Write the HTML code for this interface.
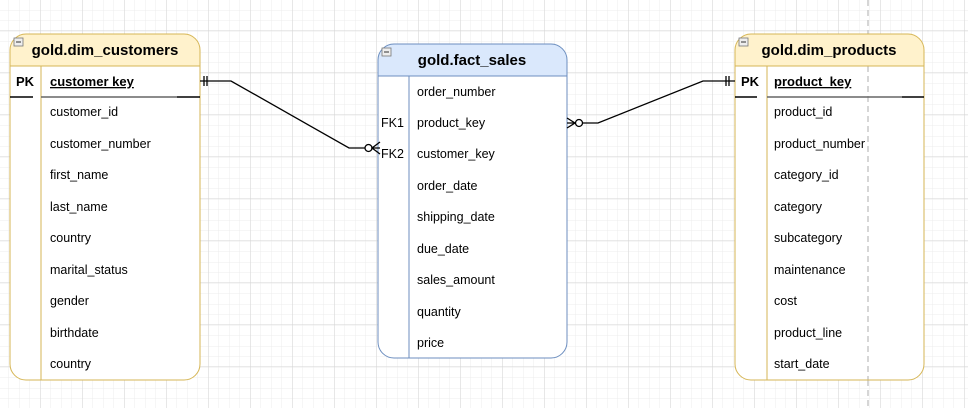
<!DOCTYPE html>
<html><head><meta charset="utf-8"><style>
html,body{margin:0;padding:0;width:968px;height:408px;overflow:hidden;background:#fff;font-family:"Liberation Sans",Arial,sans-serif}
</style></head><body>
<svg width="968" height="408" xmlns="http://www.w3.org/2000/svg" font-family="Liberation Sans, Arial, sans-serif">
<defs>
<pattern id="minor" x="-1.5" y="0" width="10.5" height="10.5" patternUnits="userSpaceOnUse">
<path d="M10.5 0V10.5M0 10.5H10.5" stroke="#ececec" stroke-width="1" fill="none"/>
</pattern>
<pattern id="major" x="-1.3" y="-11" width="42" height="42" patternUnits="userSpaceOnUse">
<path d="M42 0V42M0 42H42" stroke="#d6d6d6" stroke-width="1" fill="none"/>
</pattern>
</defs>
<rect width="968" height="408" fill="#fff"/>
<rect width="968" height="408" fill="url(#minor)"/>
<rect width="968" height="408" fill="url(#major)"/>
<line x1="868" y1="0" x2="868" y2="408" stroke="#c8c8c8" stroke-width="1.5" stroke-dasharray="6,4"/>

<!-- customers -->
<g>
<path d="M10 66 V50 a16 16 0 0 1 16 -16 H184 a16 16 0 0 1 16 16 V66Z" fill="#fff2cc"/>
<path d="M10 66 H200 V364 a16 16 0 0 1 -16 16 H26 a16 16 0 0 1 -16 -16Z" fill="#fff"/>
<line x1="10" y1="66" x2="200" y2="66" stroke="#d6b656"/>
<rect x="10" y="34" width="190" height="346" rx="16" fill="none" stroke="#d6b656" stroke-width="1"/>
<rect x="14" y="38" width="9" height="8" fill="#eee" stroke="#777" stroke-width="0.8"/><line x1="16" y1="42" x2="21" y2="42" stroke="#333"/>
<text x="105" y="55" text-anchor="middle" font-size="15" font-weight="bold">gold.dim_customers</text>
<line x1="41" y1="66" x2="41" y2="380" stroke="#d6b656"/>
<line x1="10" y1="97" x2="33" y2="97" stroke="#000" stroke-width="1.5"/>
<line x1="41" y1="97" x2="177" y2="97" stroke="#666" stroke-width="1.5"/>
<line x1="177" y1="97" x2="200" y2="97" stroke="#000" stroke-width="1.5"/>
<text x="16" y="86" font-size="13" font-weight="bold">PK</text>
<text x="50" y="86" font-size="13" font-weight="bold" text-decoration="underline">customer key</text>
<g font-size="12.5">
<text x="50" y="116">customer_id</text><text x="50" y="148">customer_number</text><text x="50" y="179">first_name</text><text x="50" y="211">last_name</text><text x="50" y="242">country</text><text x="50" y="274">marital_status</text><text x="50" y="305">gender</text><text x="50" y="337">birthdate</text><text x="50" y="368">country</text>
</g>
</g>

<!-- fact -->
<g>
<path d="M378 76 V60 a16 16 0 0 1 16 -16 H551 a16 16 0 0 1 16 16 V76Z" fill="#dae8fc"/>
<path d="M378 76 H567 V342 a16 16 0 0 1 -16 16 H394 a16 16 0 0 1 -16 -16Z" fill="#fff"/>
<line x1="378" y1="76" x2="567" y2="76" stroke="#6c8ebf"/>
<rect x="378" y="44" width="189" height="314" rx="16" fill="none" stroke="#6c8ebf"/>
<rect x="382" y="48" width="9" height="8" fill="#eee" stroke="#777" stroke-width="0.8"/><line x1="384" y1="52" x2="389" y2="52" stroke="#333"/>
<text x="472" y="65" text-anchor="middle" font-size="15" font-weight="bold">gold.fact_sales</text>
<line x1="409" y1="76" x2="409" y2="358" stroke="#6c8ebf"/>
<g font-size="12.5">
<text x="381" y="127">FK1</text><text x="381" y="158">FK2</text>
<text x="417" y="96">order_number</text><text x="417" y="127">product_key</text><text x="417" y="158">customer_key</text><text x="417" y="190">order_date</text><text x="417" y="221">shipping_date</text><text x="417" y="253">due_date</text><text x="417" y="284">sales_amount</text><text x="417" y="316">quantity</text><text x="417" y="347">price</text>
</g>
</g>

<!-- products -->
<g>
<path d="M735 66 V50 a16 16 0 0 1 16 -16 H908 a16 16 0 0 1 16 16 V66Z" fill="#fff2cc"/>
<path d="M735 66 H924 V364 a16 16 0 0 1 -16 16 H751 a16 16 0 0 1 -16 -16Z" fill="#fff"/>
<line x1="868" y1="66" x2="868" y2="380" stroke="#c8c8c8" stroke-width="1.5" stroke-dasharray="6,4"/>
<line x1="735" y1="66" x2="924" y2="66" stroke="#d6b656"/>
<rect x="735" y="34" width="189" height="346" rx="16" fill="none" stroke="#d6b656"/>
<rect x="739" y="38" width="9" height="8" fill="#eee" stroke="#777" stroke-width="0.8"/><line x1="741" y1="42" x2="746" y2="42" stroke="#333"/>
<text x="829" y="55" text-anchor="middle" font-size="15" font-weight="bold">gold.dim_products</text>
<line x1="767" y1="66" x2="767" y2="380" stroke="#d6b656"/>
<line x1="735" y1="97" x2="757" y2="97" stroke="#000" stroke-width="1.5"/>
<line x1="767" y1="97" x2="902" y2="97" stroke="#666" stroke-width="1.5"/>
<line x1="902" y1="97" x2="924" y2="97" stroke="#000" stroke-width="1.5"/>
<text x="741" y="86" font-size="13" font-weight="bold">PK</text>
<text x="774" y="86" font-size="13" font-weight="bold" text-decoration="underline">product_key</text>
<g font-size="12.5">
<text x="774" y="116">product_id</text><text x="774" y="148">product_number</text><text x="774" y="179">category_id</text><text x="774" y="211">category</text><text x="774" y="242">subcategory</text><text x="774" y="274">maintenance</text><text x="774" y="305">cost</text><text x="774" y="337">product_line</text><text x="774" y="368">start_date</text>
</g>
</g>

<!-- connectors -->
<g stroke="#000" stroke-width="1.3" fill="none">
<path d="M200 81 H231 L349 148 H365"/>
<path d="M204 76 V86 M207 76 V86"/>
<circle cx="368.5" cy="148" r="3.5" fill="#fff"/>
<path d="M380 142 L372 148 L380 154 M372 148 H380"/>
<path d="M567 118 L575 123 L567 128 M567 123 H575"/>
<circle cx="579" cy="123" r="3.5" fill="#fff"/>
<path d="M582.5 123 H598 L703 81 H735"/>
<path d="M726 76 V86 M729 76 V86"/>
</g>
</svg>
</body></html>
